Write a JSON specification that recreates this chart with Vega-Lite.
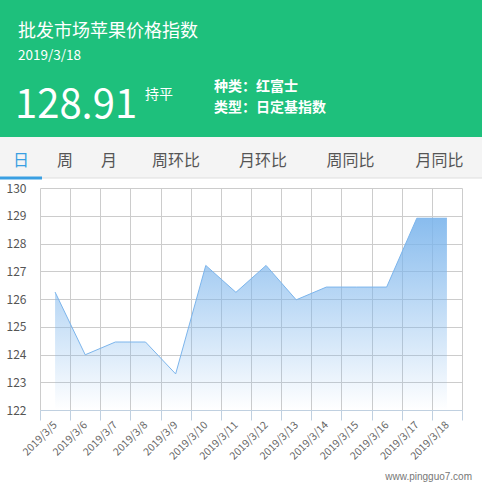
{
  "$schema": "https://vega.github.io/schema/vega-lite/v6.json",
  "padding": 0,
  "background": "white",
  "config": {
    "font": "Noto Sans CJK SC",
    "view": {"stroke": null}
  },
  "datasets": {
    "prices": [
      {"date": "2019/3/5", "index": 126.25},
      {"date": "2019/3/6", "index": 123.99},
      {"date": "2019/3/7", "index": 124.45},
      {"date": "2019/3/8", "index": 124.45},
      {"date": "2019/3/9", "index": 123.3},
      {"date": "2019/3/10", "index": 127.21},
      {"date": "2019/3/11", "index": 126.24},
      {"date": "2019/3/12", "index": 127.21},
      {"date": "2019/3/13", "index": 125.97},
      {"date": "2019/3/14", "index": 126.43},
      {"date": "2019/3/15", "index": 126.43},
      {"date": "2019/3/16", "index": 126.43},
      {"date": "2019/3/17", "index": 128.91},
      {"date": "2019/3/18", "index": 128.91}
    ],
    "tabs": [
      {"tab": "日"}, {"tab": "周"}, {"tab": "月"}, {"tab": "周环比"},
      {"tab": "月环比"}, {"tab": "周同比"}, {"tab": "月同比"}
    ]
  },
  "title": {
    "text": "www.pingguo7.com",
    "orient": "bottom",
    "anchor": "end",
    "frame": "bounds",
    "font": "Liberation Sans",
    "fontSize": 10,
    "fontWeight": "normal",
    "color": "#777777",
    "offset": 10,
    "dx": -10
  },
  "vconcat": [
    {
      "vconcat": [
        {
          "width": 482,
          "height": 62,
          "view": {"fill": "#1ec07c", "stroke": null},
          "title": {
            "text": "批发市场苹果价格指数",
            "subtitle": "2019/3/18",
            "anchor": "start",
            "frame": "group",
            "orient": "top",
            "dx": 18,
            "offset": -62,
            "fontSize": 18,
            "fontWeight": "normal",
            "color": "white",
            "subtitleFontSize": 13.5,
            "subtitleColor": "white",
            "subtitlePadding": 8
          },
          "data": {"values": [{}]},
          "mark": {"type": "text", "text": ""}
        },
        {
          "hconcat": [
            {
              "width": 145,
              "height": 75,
              "view": {"fill": "#1ec07c", "stroke": null},
              "title": {
                "text": "128.91",
                "anchor": "start",
                "frame": "group",
                "dx": 15,
                "offset": -64,
                "fontSize": 40,
                "fontWeight": "normal",
                "color": "white"
              },
              "data": {"values": [{}]},
              "mark": {"type": "text", "text": ""}
            },
            {
              "width": 69,
              "height": 75,
              "view": {"fill": "#1ec07c", "stroke": null},
              "title": {
                "text": "持平",
                "anchor": "start",
                "frame": "group",
                "offset": -40,
                "fontSize": 14,
                "fontWeight": "normal",
                "color": "white"
              },
              "data": {"values": [{}]},
              "mark": {"type": "text", "text": ""}
            },
            {
              "width": 268,
              "height": 75,
              "view": {"fill": "#1ec07c", "stroke": null},
              "title": {
                "text": "种类：红富士",
                "subtitle": "类型：日定基指数",
                "anchor": "start",
                "frame": "group",
                "offset": -53,
                "fontSize": 14,
                "fontWeight": "bold",
                "color": "white",
                "subtitleFontSize": 14,
                "subtitleFontWeight": "bold",
                "subtitleColor": "white",
                "subtitlePadding": 7
              },
              "data": {"values": [{}]},
              "mark": {"type": "text", "text": ""}
            }
          ],
          "spacing": 0
        },
        {
          "hconcat": [
            {
              "width": 42, "height": 41,
              "view": {"fill": "#f4f4f4", "stroke": null},
              "data": {"name": "tabs"},
              "transform": [{"filter": "datum.tab === '日'"}],
              "layer": [
                {"mark": {"type": "text", "fontSize": 16, "dy": 3, "color": "#3a9fe2"}, "encoding": {"text": {"field": "tab"}}},
                {"mark": {"type": "tick", "orient": "horizontal", "size": 42, "thickness": 3, "color": "#3a9fe2", "opacity": 1}, "encoding": {"y": {"value": "height"}}}
              ]
            },
            {
              "width": 46, "height": 41,
              "view": {"fill": "#f4f4f4", "stroke": null},
              "data": {"name": "tabs"},
              "transform": [{"filter": "datum.tab === '周'"}],
              "layer": [
                {"mark": {"type": "text", "fontSize": 16, "dy": 3, "color": "#555555"}, "encoding": {"text": {"field": "tab"}}},
                {"mark": {"type": "tick", "orient": "horizontal", "size": 46, "thickness": 1, "color": "#dddddd", "opacity": 1}, "encoding": {"y": {"value": "height"}}}
              ]
            },
            {
              "width": 42, "height": 41,
              "view": {"fill": "#f4f4f4", "stroke": null},
              "data": {"name": "tabs"},
              "transform": [{"filter": "datum.tab === '月'"}],
              "layer": [
                {"mark": {"type": "text", "fontSize": 16, "dy": 3, "color": "#555555"}, "encoding": {"text": {"field": "tab"}}},
                {"mark": {"type": "tick", "orient": "horizontal", "size": 42, "thickness": 1, "color": "#dddddd", "opacity": 1}, "encoding": {"y": {"value": "height"}}}
              ]
            },
            {
              "width": 92, "height": 41,
              "view": {"fill": "#f4f4f4", "stroke": null},
              "data": {"name": "tabs"},
              "transform": [{"filter": "datum.tab === '周环比'"}],
              "layer": [
                {"mark": {"type": "text", "fontSize": 16, "dy": 3, "color": "#555555"}, "encoding": {"text": {"field": "tab"}}},
                {"mark": {"type": "tick", "orient": "horizontal", "size": 92, "thickness": 1, "color": "#dddddd", "opacity": 1}, "encoding": {"y": {"value": "height"}}}
              ]
            },
            {
              "width": 82, "height": 41,
              "view": {"fill": "#f4f4f4", "stroke": null},
              "data": {"name": "tabs"},
              "transform": [{"filter": "datum.tab === '月环比'"}],
              "layer": [
                {"mark": {"type": "text", "fontSize": 16, "dy": 3, "color": "#555555"}, "encoding": {"text": {"field": "tab"}}},
                {"mark": {"type": "tick", "orient": "horizontal", "size": 82, "thickness": 1, "color": "#dddddd", "opacity": 1}, "encoding": {"y": {"value": "height"}}}
              ]
            },
            {
              "width": 93, "height": 41,
              "view": {"fill": "#f4f4f4", "stroke": null},
              "data": {"name": "tabs"},
              "transform": [{"filter": "datum.tab === '周同比'"}],
              "layer": [
                {"mark": {"type": "text", "fontSize": 16, "dy": 3, "color": "#555555"}, "encoding": {"text": {"field": "tab"}}},
                {"mark": {"type": "tick", "orient": "horizontal", "size": 93, "thickness": 1, "color": "#dddddd", "opacity": 1}, "encoding": {"y": {"value": "height"}}}
              ]
            },
            {
              "width": 85, "height": 41,
              "view": {"fill": "#f4f4f4", "stroke": null},
              "data": {"name": "tabs"},
              "transform": [{"filter": "datum.tab === '月同比'"}],
              "layer": [
                {"mark": {"type": "text", "fontSize": 16, "dy": 3, "color": "#555555"}, "encoding": {"text": {"field": "tab"}}},
                {"mark": {"type": "tick", "orient": "horizontal", "size": 85, "thickness": 1, "color": "#dddddd", "opacity": 1}, "encoding": {"y": {"value": "height"}}}
              ]
            }
          ],
          "spacing": 0
        }
      ],
      "spacing": 0
    },
    {
      "hconcat": [
        {
          "width": 1,
          "height": 1,
          "data": {"values": [{}]},
          "mark": {"type": "text", "text": ""}
        },
        {
          "width": 422,
          "height": 222,
          "data": {"name": "prices"},
          "mark": {
            "type": "area",
            "opacity": 1,
            "color": {
              "gradient": "linear",
              "x1": 0, "y1": 0, "x2": 0, "y2": 1,
              "stops": [
                {"offset": 0, "color": "rgba(124,181,236,0.9)"},
                {"offset": 1, "color": "rgba(124,181,236,0)"}
              ]
            },
            "line": {"color": "#7cb5ec", "strokeWidth": 1, "opacity": 1}
          },
          "encoding": {
            "x": {
              "field": "date",
              "type": "ordinal",
              "sort": null,
              "bandPosition": 0.5,
              "scale": {"type": "band", "paddingInner": 0, "paddingOuter": 0},
              "axis": {
                "title": null,
                "tickBand": "extent",
                "grid": true,
                "gridColor": "#cccccc",
                "domainColor": "#c0d0e0",
                "tickColor": "#c0d0e0",
                "tickSize": 10,
                "labelAngle": -45,
                "labelAlign": "right",
                "labelBaseline": "middle",
                "labelPadding": 3,
                "labelFontSize": 10.5,
                "labelColor": "#666666"
              }
            },
            "y": {
              "field": "index",
              "type": "quantitative",
              "scale": {"domain": [122, 130], "zero": false, "nice": false},
              "axis": {
                "title": null,
                "values": [122, 123, 124, 125, 126, 127, 128, 129, 130],
                "domain": false,
                "ticks": false,
                "grid": true,
                "gridColor": "#cccccc",
                "labelPadding": 14,
                "labelFontSize": 12,
                "labelColor": "#555555",
                "minExtent": 39
              }
            },
            "y2": {"datum": 122}
          }
        }
      ],
      "spacing": 0
    }
  ],
  "spacing": 2
}
